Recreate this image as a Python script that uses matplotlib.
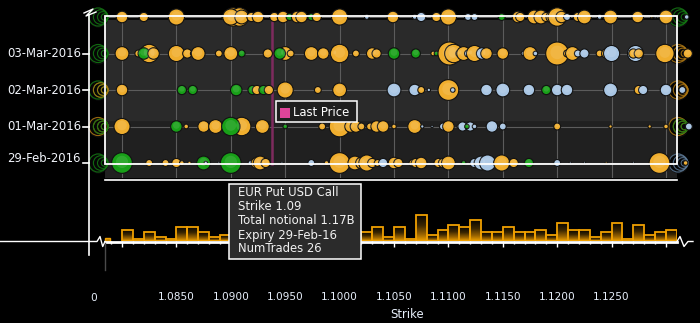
import numpy as np
import matplotlib.pyplot as plt
from matplotlib.patches import Rectangle
from matplotlib.lines import Line2D
from matplotlib.colors import LinearSegmentedColormap

W, H = 700, 323

expiries = ["29-Feb-2016", "01-Mar-2016", "02-Mar-2016", "03-Mar-2016", "04-Mar-2016"]
last_price = 1.0938

# (strike, notional $M, kind)  p = EUR put / USD call, c = EUR call, s = other
trades_29feb = [
    (1.0800, 405, "s"), (1.0825, 45, "p"), (1.0840, 45, "p"), (1.0850, 80, "p"),
    (1.0855, 20, "p"), (1.0862, 11, "p"), (1.0875, 180, "s"), (1.0877, 11, "c"),
    (1.0889, 5, "c"), (1.0900, 405, "s"), (1.0918, 20, "c"), (1.0924, 125, "p"),
    (1.0927, 180, "p"), (1.0932, 80, "p"), (1.0947, 5, "c"), (1.0974, 45, "c"),
    (1.0988, 20, "p"), (1.1000, 405, "p"), (1.1014, 180, "p"), (1.1020, 125, "p"),
    (1.1025, 245, "p"), (1.1030, 80, "p"), (1.1035, 45, "p"), (1.1040, 80, "c"),
    (1.1050, 125, "p"), (1.1054, 80, "p"), (1.1067, 45, "p"), (1.1070, 80, "p"),
    (1.1075, 125, "p"), (1.1091, 80, "p"), (1.1095, 80, "p"), (1.1100, 180, "p"),
    (1.1114, 20, "s"), (1.1124, 80, "c"), (1.1130, 180, "c"), (1.1136, 245, "c"),
    (1.1149, 245, "p"), (1.1160, 80, "p"), (1.1174, 80, "s"), (1.1200, 45, "c"),
    (1.1212, 5, "c"), (1.1225, 5, "c"), (1.1245, 5, "p"), (1.1270, 5, "c"),
    (1.1294, 405, "p"), (1.1318, 20, "p"),
]
trades_01mar = [
    (1.0800, 245, "p"), (1.0850, 125, "s"), (1.0859, 20, "p"), (1.0875, 125, "p"),
    (1.0886, 180, "p"), (1.0910, 320, "p"), (1.0900, 320, "s"), (1.0925, 20, "p"),
    (1.0929, 180, "p"), (1.0950, 20, "s"), (1.0984, 45, "p"), (1.1000, 405, "p"),
    (1.1010, 125, "p"), (1.1015, 125, "p"), (1.1020, 45, "p"), (1.1028, 45, "p"),
    (1.1034, 125, "p"), (1.1040, 125, "p"), (1.1050, 20, "p"), (1.1069, 180, "p"),
    (1.1076, 11, "c"), (1.1085, 5, "c"), (1.1095, 45, "c"), (1.1100, 125, "p"),
    (1.1110, 20, "c"), (1.1113, 80, "c"), (1.1120, 80, "c"), (1.1117, 20, "s"),
    (1.1124, 20, "c"), (1.1140, 125, "c"), (1.1150, 45, "c"), (1.1200, 45, "p"),
    (1.1249, 11, "p"), (1.1285, 11, "p"), (1.1300, 20, "p"), (1.1321, 45, "c"),
]
trades_02mar = [
    (1.0800, 125, "p"), (1.0855, 80, "s"), (1.0865, 80, "s"), (1.0905, 125, "s"),
    (1.0920, 80, "s"), (1.0924, 80, "p"), (1.0930, 80, "s"), (1.0935, 80, "p"),
    (1.0950, 245, "p"), (1.0980, 45, "p"), (1.1000, 180, "p"), (1.1050, 180, "c"),
    (1.1069, 125, "c"), (1.1075, 45, "p"), (1.1082, 11, "c"), (1.1100, 405, "p"),
    (1.1104, 20, "c"), (1.1135, 125, "c"), (1.1150, 180, "c"), (1.1174, 125, "c"),
    (1.1190, 80, "s"), (1.1200, 125, "c"), (1.1209, 125, "c"), (1.1249, 180, "c"),
    (1.1275, 80, "p"), (1.1279, 80, "c"), (1.1300, 125, "c"), (1.1315, 45, "c"),
]
trades_03mar = [
    (1.0800, 180, "p"), (1.0815, 45, "p"), (1.0825, 320, "p"), (1.0820, 125, "s"),
    (1.0829, 125, "p"), (1.0850, 245, "p"), (1.0860, 80, "p"), (1.0865, 20, "c"),
    (1.0870, 180, "p"), (1.0889, 45, "p"), (1.0896, 20, "p"), (1.0900, 180, "p"),
    (1.0910, 45, "s"), (1.0934, 80, "p"), (1.0950, 180, "p"), (1.0945, 125, "s"),
    (1.0955, 45, "p"), (1.0974, 180, "p"), (1.0985, 125, "p"), (1.0995, 45, "p"),
    (1.1000, 320, "p"), (1.1015, 45, "p"), (1.1030, 125, "p"), (1.1034, 80, "p"),
    (1.1050, 125, "s"), (1.1070, 80, "s"), (1.1086, 20, "p"), (1.1089, 20, "s"),
    (1.1101, 500, "p"), (1.1105, 320, "p"), (1.1110, 45, "p"), (1.1114, 180, "p"),
    (1.1118, 45, "c"), (1.1120, 45, "c"), (1.1124, 245, "p"), (1.1131, 125, "c"),
    (1.1135, 125, "p"), (1.1150, 125, "p"), (1.1169, 20, "c"), (1.1175, 180, "p"),
    (1.1180, 20, "c"), (1.1200, 500, "p"), (1.1209, 45, "p"), (1.1214, 180, "p"),
    (1.1219, 45, "c"), (1.1225, 80, "c"), (1.1239, 45, "p"), (1.1245, 80, "p"),
    (1.1250, 245, "c"), (1.1272, 245, "c"), (1.1270, 80, "p"), (1.1275, 80, "p"),
    (1.1299, 320, "p"), (1.1320, 80, "p"),
]
trades_04mar = [
    (1.0800, 125, "p"), (1.0820, 80, "p"), (1.0850, 245, "p"), (1.0895, 45, "s"),
    (1.0902, 320, "p"), (1.0908, 320, "p"), (1.0900, 245, "p"), (1.0910, 180, "p"),
    (1.0919, 80, "p"), (1.0925, 125, "p"), (1.0940, 80, "p"), (1.0948, 125, "p"),
    (1.0954, 45, "s"), (1.0961, 125, "p"), (1.0965, 125, "p"), (1.0974, 45, "s"),
    (1.0979, 80, "p"), (1.1000, 245, "p"), (1.1025, 20, "c"), (1.1049, 125, "p"),
    (1.1069, 20, "c"), (1.1075, 80, "c"), (1.1089, 80, "p"), (1.1100, 245, "p"),
    (1.1118, 45, "c"), (1.1124, 45, "c"), (1.1149, 45, "s"), (1.1164, 125, "p"),
    (1.1166, 80, "p"), (1.1179, 180, "p"), (1.1185, 180, "p"), (1.1190, 80, "p"),
    (1.1195, 125, "p"), (1.1200, 320, "p"), (1.1204, 125, "p"), (1.1209, 45, "c"),
    (1.1219, 80, "p"), (1.1225, 180, "p"), (1.1239, 20, "c"), (1.1249, 180, "p"),
    (1.1274, 125, "p"), (1.1287, 5, "p"), (1.1290, 5, "c"), (1.1300, 180, "p"),
    (1.1319, 20, "c"),
]
rows = [trades_29feb, trades_01mar, trades_02mar, trades_03mar, trades_04mar]

# out-of-range markers at both ends, per expiry (bottom to top)
left_ghost = ["s", "ps", "sp", "s", "s"]
right_ghost = ["c", "ps", "p", "p", "s"]

# total notional per strike (100M), strikes 1.080 .. 1.130
hist_strikes = [1.080, 1.081, 1.082, 1.083, 1.084, 1.085, 1.086, 1.087, 1.088, 1.089,
                1.090, 1.091, 1.092, 1.093, 1.094, 1.095, 1.096, 1.097, 1.098, 1.099,
                1.100, 1.101, 1.102, 1.103, 1.104, 1.105, 1.106, 1.107, 1.108, 1.109,
                1.110, 1.111, 1.112, 1.113, 1.114, 1.115, 1.116, 1.117, 1.118, 1.119,
                1.120, 1.121, 1.122, 1.123, 1.124, 1.125, 1.126, 1.127, 1.128, 1.129,
                1.130]
hist_notional = [4.9, 0.9, 4.0, 1.7, 0.8, 6.2, 6.2, 4.0, 1.7, 2.6,
                 11.7, 5.0, 3.0, 6.0, 4.0, 2.6, 7.0, 4.0, 5.0, 3.0,
                 6.0, 4.0, 4.0, 6.2, 1.7, 6.2, 0.8, 11.7, 2.6, 4.9,
                 7.1, 6.2, 9.4, 4.0, 4.0, 6.2, 4.0, 4.0, 4.9, 2.6,
                 8.0, 4.9, 4.9, 1.7, 4.0, 8.0, 0.8, 7.1, 2.6, 4.0,
                 4.9]
low_notional = 1.4

major_ticks = [1.080, 1.085, 1.090, 1.095, 1.100, 1.105, 1.110, 1.115, 1.120, 1.125, 1.130]
tick_labels = ["1.0850", "1.0900", "1.0950", "1.1000", "1.1050", "1.1100", "1.1150", "1.1200", "1.1250"]

tooltip = ["EUR Put USD Call", "Strike 1.09", "Total notional 1.17B",
           "Expiry 29-Feb-16", "NumTrades 26"]

colors = {"p": "#f0ae2e", "c": "#a9c6e4", "s": "#18a018"}
ghost_colors = {"p": "#b07812", "c": "#5d7a98", "s": "#127a12"}
X0, X1 = 1.078437, 1.131011


def fx(px):
    return px / W


def fy(py):
    return 1 - py / H


def vrow(py):
    return (163 - py) / 36.5


plt.rcParams["font.family"] = "DejaVu Sans"
fig = plt.figure(figsize=(7, 3.23), dpi=100, facecolor="black")

# bubble panel
ax = fig.add_axes([fx(105), fy(178), 572 / W, 178 / H])
ax.set_facecolor("black")
ax.set_xlim(X0, X1)
ax.set_ylim(vrow(178), vrow(0))
ax.axis("off")
ax.axhspan(vrow(178), vrow(120), color="#202020", zorder=0)
ax.axhspan(vrow(120), vrow(20), color="#2a2a2a", zorder=0)
for i in range(len(rows)):
    ax.plot([X0, X1], [i, i], color="#5c5c5c", lw=0.8, zorder=1)
for s in major_ticks:
    ax.plot([s, s], [vrow(178), vrow(20)], color="#5c5c5c", lw=0.8, zorder=1)

ax.plot([last_price, last_price], [vrow(164), vrow(22)], color="#7e2b5e", lw=1.8, zorder=2)


def ghost(xc, yc, kinds):
    ax.scatter([xc], [yc], s=190, c="#060606", edgecolors="#101010", lw=0.6,
               zorder=2.5, clip_on=False)
    for j, kd in enumerate(kinds):
        col = ghost_colors[kd]
        for r in [170, 110, 60, 22][j:]:
            ax.scatter([xc + (180 - r) * 0.0000040], [yc], s=r, facecolors="none",
                       edgecolors=col, lw=0.8, alpha=0.85, zorder=2.6, clip_on=False)


for i in range(len(rows)):
    ghost(1.07776, i, left_ghost[i])
    ghost(1.13106, i, right_ghost[i])

k = 0.55
for i, row in enumerate(rows):
    xs = [t[0] for t in row]
    ss = [t[1] * k for t in row]
    cs = [colors[t[2]] for t in row]
    ax.scatter(xs, [i] * len(xs), s=ss, c=cs, edgecolors="#121212",
               linewidths=0.8, zorder=3, clip_on=False)
    # soft highlight
    ax.scatter(xs, [i + 0.03] * len(xs), s=[v * 0.35 for v in ss], c="white",
               alpha=0.1, linewidths=0, zorder=3, clip_on=False)

# frame, axis line, labels
fig.add_artist(Rectangle((fx(105), fy(164)), 572 / W, 148 / H, fill=False,
                         ec="white", lw=1.3, zorder=10))
fig.add_artist(Line2D([fx(89), fx(89)], [fy(15), fy(255)], color="white", lw=1.2))
fig.add_artist(Line2D([fx(84), fx(93), fx(86), fx(96)], [fy(13), fy(9), fy(16), fy(12)],
                      color="white", lw=1))
for i, lab in enumerate(expiries[:4]):
    py = 163 - 36.5 * i
    fig.add_artist(Line2D([fx(83), fx(89)], [fy(py), fy(py)], color="white", lw=1.2))
    fig.text(fx(81), fy(py - 4 if i == 0 else py), lab, ha="right", va="center",
             fontsize=8.4, color="#f2f5fb")

# legend
fig.add_artist(Rectangle((fx(276), fy(122)), 81 / W, 21 / H, fc="#1e1e1e",
                         ec="white", lw=1.1, zorder=11))
fig.add_artist(Rectangle((fx(280), fy(118)), 10 / W, 10 / H, fc="#e0449a",
                         ec="none", zorder=12))
fig.text(fx(293), fy(112), "Last Price", ha="left", va="center", fontsize=8.4,
         color="white", zorder=12)

# histogram panel
hax = fig.add_axes([fx(105), fy(241), 572 / W, 61 / H])
hax.set_facecolor("black")
for sp in hax.spines.values():
    sp.set_visible(False)
cmap = LinearSegmentedColormap.from_list(
    "g", [(0, "#f0a200"), (0.25, "#9a6400"), (0.6, "#3a2600"), (1, "#080500")])
grad = np.linspace(0, 1, 128).reshape(-1, 1)
bars = hax.bar(hist_strikes, hist_notional, width=0.001, align="edge",
               color="none", edgecolor="#f0a000", lw=1.3, zorder=3)
for b in bars:
    im = hax.imshow(grad, extent=[b.get_x(), b.get_x() + b.get_width(), 0, b.get_height()],
                    origin="lower", aspect="auto", cmap=cmap, zorder=2)
    im.set_clip_path(b)
hax.bar([X0], [low_notional], width=0.00045, align="edge", color="#c08000",
        edgecolor="#f0a000", lw=1, clip_on=False)
hax.set_xlim(X0, X1)
hax.set_ylim(0, 27.7)
hax.set_xticks(major_ticks)
hax.set_xticks(hist_strikes + [1.079], minor=True)
hax.set_yticks([])
hax.tick_params(axis="x", which="major", length=4.3, width=1, color="white",
                labelbottom=False)
hax.tick_params(axis="x", which="minor", length=2.2, width=1, color="white")

fig.add_artist(Line2D([fx(105), fx(677)], [fy(180), fy(180)], color="white", lw=1.2))
fig.add_artist(Line2D([fx(105), fx(677)], [fy(241.5), fy(241.5)], color="white", lw=2))
fig.add_artist(Line2D([fx(0), fx(97), fx(100), fx(102.7), fx(105)],
                      [fy(241.5), fy(241.5), fy(236.5), fy(246.5), fy(241.5)],
                      color="white", lw=1))
fig.add_artist(Line2D([fx(677), fx(680), fx(684), fx(688), fx(693)],
                      [fy(241.5), fy(236.5), fy(246.5), fy(241.5), fy(241.5)],
                      color="white", lw=1))
fig.add_artist(Line2D([fx(105), fx(105)], [fy(243), fy(270)], color="#4a4a4a", lw=1))

for s, lab in zip(major_ticks[1:-1], tick_labels):
    px = 122 + (s - 1.08) / 0.005 * 54.4
    fig.text(fx(px), fy(297), lab, ha="center", va="center", fontsize=7.6, color="#e6eefa")
fig.text(fx(94), fy(298), "0", ha="center", va="center", fontsize=7.6, color="#e6eefa")
fig.text(fx(407), fy(315), "Strike", ha="center", va="center", fontsize=8.4, color="#e6eefa")

# tooltip
fig.add_artist(Rectangle((fx(229), fy(259)), 132 / W, 75 / H, fc="#2b2b2b",
                         ec="white", lw=1.1, zorder=20))
for j, line in enumerate(tooltip):
    fig.text(fx(238), fy(193 + 14 * j), line, ha="left", va="center", fontsize=8.4,
             color="#f2f2f2", zorder=21)

fig.savefig("out.png", dpi=100, facecolor="black")
